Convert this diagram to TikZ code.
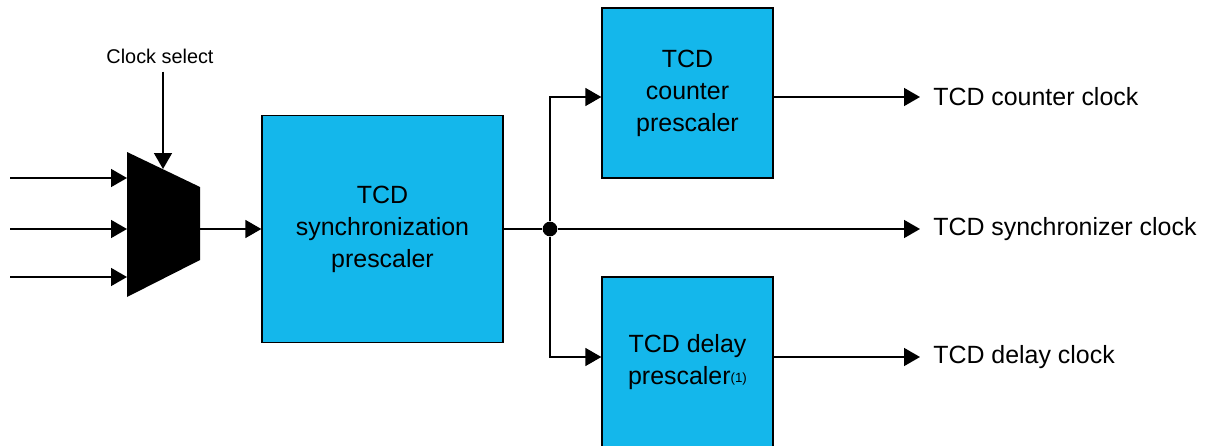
\documentclass[tikz,border=0pt]{standalone}
\usepackage{fontspec}
\setmainfont{Liberation Sans}
\usetikzlibrary{positioning, arrows.meta, calc}
\definecolor{tcdblue}{RGB}{20,183,235}
\tikzset{
    block/.style={
        draw=black,
        fill=tcdblue,
        line width=1pt,
        align=center,
        font=\fontsize{18.7}{24}\selectfont
    },
    wire/.style={
        line width=1.2pt
    },
    arrowwire/.style={
        wire,
        -{Triangle[length=12pt,width=13.5pt]}
    },
    junction/.style={
        circle,
        fill=black,
        inner sep=0pt,
        minimum size=11pt
    },
    outlabel/.style={
        anchor=west,
        inner xsep=9.75pt,
        font=\fontsize{18.7}{24}\selectfont
    }
}

\begin{document}
\begin{tikzpicture}[x=0.75pt,y=-0.75pt]

\useasboundingbox (0,0) rectangle (1208,446);

%---------------- Clock select mux ----------------

\fill[black] (127,152) -- (200,187) -- (200,260) -- (127,297) -- cycle;

\coordinate (m1) at (127,178);
\coordinate (m2) at (127,229);
\coordinate (m3) at (127,277);
\coordinate (msel) at (163,169);
\coordinate (mout) at (200,229);

\coordinate (i1) at (10,178);
\coordinate (i2) at (10,229);
\coordinate (i3) at (10,277);

\node[font=\fontsize{14.9}{18}\selectfont, inner ysep=6pt] (clksel) at (160,56) {Clock select};

\draw[arrowwire] (i1) -- (m1);
\draw[arrowwire] (i2) -- (m2);
\draw[arrowwire] (i3) -- (m3);
\draw[arrowwire] (clksel.south -| msel) -- (msel);

%---------------- Prescalers ----------------

\node[block, minimum width=180.75pt, minimum height=170.25pt] (sync) at (382.5,229) {TCD\\synchronization\\prescaler};
\node[block, minimum width=128.25pt, minimum height=127.5pt] (cnt) at (687.5,93) {TCD\\counter\\prescaler};
\node[block, minimum width=128.25pt, minimum height=127.5pt] (dly) at (687.5,362) {TCD delay\\prescaler\raisebox{1.5pt}{\fontsize{10}{11}\selectfont(1)}};

\node[junction] (junc) at (550,229) {};

\draw[arrowwire] (mout) -- (sync.west);
\draw[wire] (sync.east) -- (junc);
\draw[arrowwire] (junc) |- ([yshift=-3pt]cnt.west);
\draw[arrowwire] (junc) |- ([yshift=3.75pt]dly.west);

%---------------- Output clocks ----------------

\node[outlabel] (cntclk) at (920,97) {TCD counter clock};
\node[outlabel] (syncclk) at (920,229) {TCD synchronizer clock};
\node[outlabel] (dlyclk) at (920,357) {TCD delay clock};

\draw[arrowwire] ([yshift=-3pt]cnt.east) -- (cntclk.west);
\draw[arrowwire] (junc) -- (syncclk.west);
\draw[arrowwire] ([yshift=3.75pt]dly.east) -- (dlyclk.west);

\end{tikzpicture}
\end{document}
